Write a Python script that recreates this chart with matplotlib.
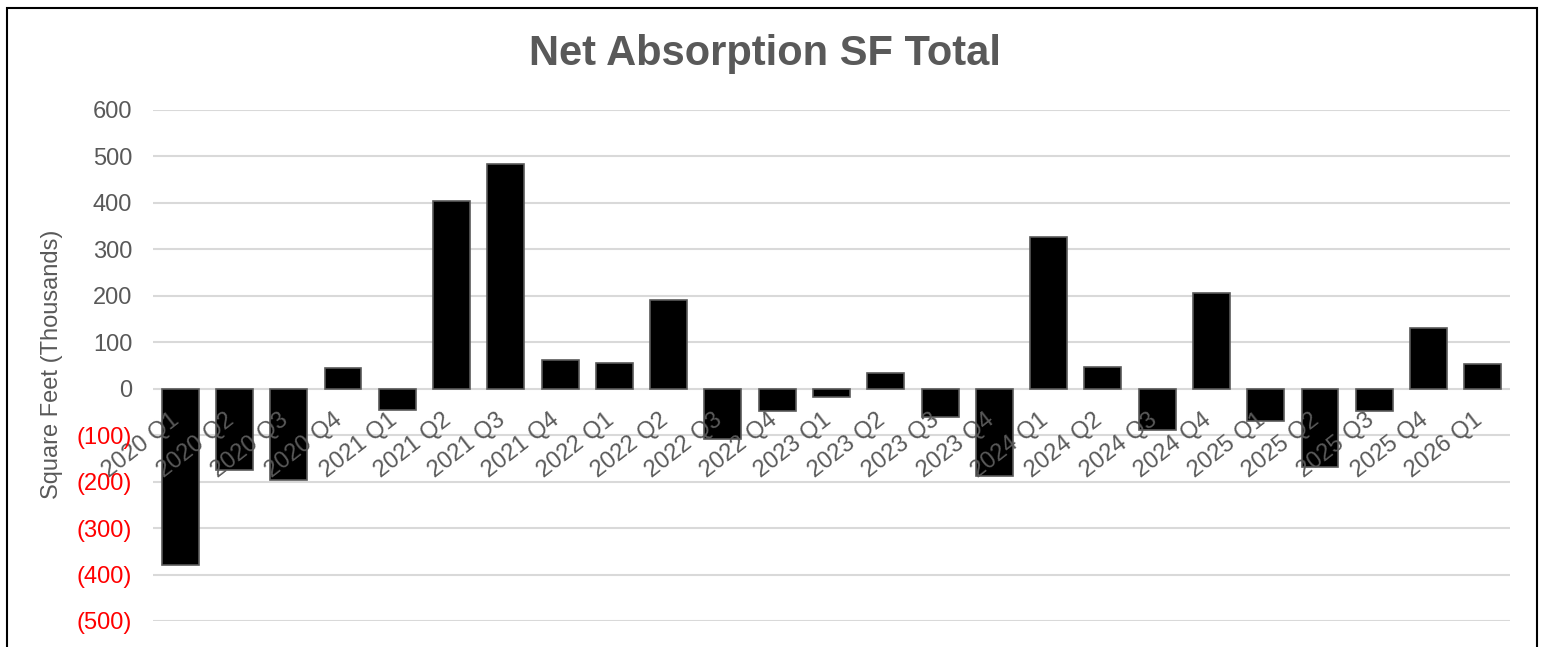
import numpy as np
import matplotlib
matplotlib.use("Agg")
from matplotlib import pyplot as plt
from matplotlib.patches import Rectangle
from matplotlib.transforms import ScaledTranslation

plt.rcParams['font.family'] = ['Liberation Sans', 'DejaVu Sans']

# data (thousands of square feet)
quarters = ["2020 Q1", "2020 Q2", "2020 Q3", "2020 Q4",
            "2021 Q1", "2021 Q2", "2021 Q3", "2021 Q4",
            "2022 Q1", "2022 Q2", "2022 Q3", "2022 Q4",
            "2023 Q1", "2023 Q2", "2023 Q3", "2023 Q4",
            "2024 Q1", "2024 Q2", "2024 Q3", "2024 Q4",
            "2025 Q1", "2025 Q2", "2025 Q3", "2025 Q4",
            "2026 Q1"]
net_absorption = [-379, -176, -196, 45,
                  -45, 405, 484, 61,
                  56, 192, -109, -49,
                  -17, 34, -60, -187,
                  326, 46, -89, 206,
                  -69, -168, -48, 130,
                  54]
yticks = np.arange(-500, 601, 100)

gray = '#595959'

fig = plt.figure(figsize=(15.44, 6.47), dpi=100)
ax = fig.add_axes([153/1544, 26/647, 1357/1544, 511/647])
ax.set_axisbelow(False)  # tick labels drawn over the bars

# gridlines behind the bars
for v in yticks:
    ax.axhline(v, color='#d9d9d9', linewidth=1.5, zorder=1)

x = np.arange(len(quarters))
ax.bar(x, net_absorption, width=0.68, color='black', edgecolor='#5a5a5a',
       linewidth=1.2, zorder=2)

ax.set_xlim(-0.5, len(quarters) - 0.5)
ax.set_ylim(-500, 600)
ax.set_yticks(yticks)
ax.set_yticklabels([f"({abs(v)})" if v < 0 else f"{v}" for v in yticks])
for lab, v in zip(ax.get_yticklabels(), yticks):
    lab.set_color('red' if v < 0 else gray)
ax.tick_params(axis='y', length=0, pad=15, labelsize=17)

for s in ['top', 'right', 'left']:
    ax.spines[s].set_visible(False)
ax.spines['bottom'].set_position(('data', 0))
ax.spines['bottom'].set_visible(False)

ax.set_xticks(x)
ax.set_xticklabels(quarters)
ax.tick_params(axis='x', length=0, pad=21, labelsize=17, labelcolor=gray)
offset = ScaledTranslation(-0.03, 0, fig.dpi_scale_trans)
for lab in ax.get_xticklabels():
    lab.set_rotation(38)
    lab.set_ha('right')
    lab.set_va('center')
    lab.set_rotation_mode('anchor')
    lab.set_transform(lab.get_transform() + offset)

ax.set_ylabel('Square Feet (Thousands)', fontsize=17, color=gray)
ax.yaxis.set_label_coords((63 - 153) / 1357, 0.503)

fig.text(765/1544, 1 - 65/647, 'Net Absorption SF Total', ha='center',
         va='baseline', fontsize=30, fontweight='bold', color=gray)

# outer chart border (cut off at the bottom)
fig.add_artist(Rectangle((7/1544, -0.1), (1537 - 7)/1544, 1.1 - 8/647,
                         transform=fig.transFigure, fill=False,
                         edgecolor='black', linewidth=1.5, clip_on=False))

fig.savefig('out.png', dpi=100)
